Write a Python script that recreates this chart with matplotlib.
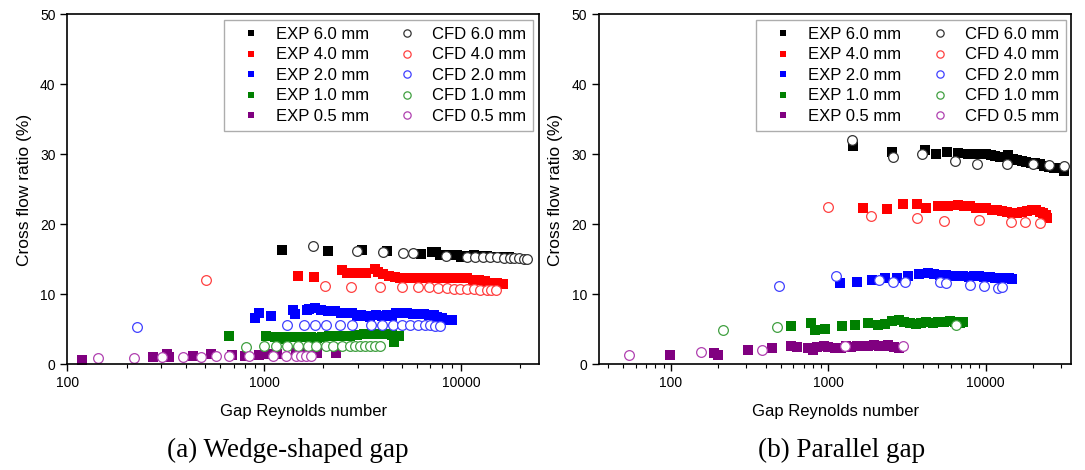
import matplotlib
matplotlib.use("Agg")
import matplotlib.pyplot as plt
from matplotlib.ticker import FixedLocator, FixedFormatter, NullFormatter, LogLocator

plt.rcParams['font.family'] = ['Liberation Sans', 'DejaVu Sans']

labels = ['6.0 mm', '4.0 mm', '2.0 mm', '1.0 mm', '0.5 mm']
exp_colors = ['#000000', '#ff0000', '#0000ff', '#008000', '#800080']
cfd_colors = ['#333333', '#ff4040', '#4040ff', '#40a040', '#b040b0']

# ---- (a) wedge-shaped gap ----
a_exp6_re = [1230, 2120, 3130, 4200, 6300, 7100, 7500, 7800, 8300, 8800, 9500, 10000, 10800, 11600, 12500, 13500, 14700, 16000, 17500]
a_exp6_v = [16.4, 16.2, 16.3, 16.2, 15.8, 16.1, 16.0, 15.7, 15.7, 15.6, 15.6, 15.4, 15.5, 15.6, 15.5, 15.5, 15.4, 15.3, 15.3]
a_cfd6_re = [1780, 2960, 4020, 5080, 5700, 8400, 10700, 11800, 12900, 14100, 15300, 16500, 17700, 18700, 19700, 20800, 21600]
a_cfd6_v = [16.9, 16.2, 16.0, 15.9, 15.9, 15.5, 15.4, 15.4, 15.3, 15.3, 15.3, 15.2, 15.2, 15.2, 15.2, 15.1, 15.0]

a_exp4_re = [1480, 1800, 2500, 2650, 2800, 2950, 3100, 3300, 3650, 3800, 4000, 4300, 4600, 4900, 5300, 5700, 6100, 6600, 7100, 7600, 8100, 8700, 9300, 10000, 10700, 11500, 12300, 13200, 14100, 15200, 16400]
a_exp4_v = [12.6, 12.5, 13.5, 13.0, 13.1, 13.0, 13.0, 13.1, 13.6, 13.2, 12.9, 12.7, 12.5, 12.4, 12.4, 12.3, 12.4, 12.3, 12.3, 12.4, 12.4, 12.3, 12.4, 12.3, 12.3, 12.1, 12.0, 11.9, 11.7, 11.6, 11.5]
a_cfd4_re = [506, 2040, 2770, 3860, 5000, 6060, 6900, 7650, 8480, 9170, 9930, 10700, 11600, 12500, 13500, 14200, 15100]
a_cfd4_v = [12.0, 11.2, 11.1, 11.0, 11.0, 11.0, 11.0, 10.9, 10.9, 10.8, 10.8, 10.8, 10.8, 10.7, 10.7, 10.7, 10.6]

a_exp2_re = [900, 944, 1080, 1410, 1440, 1650, 1700, 1820, 1950, 2100, 2300, 2450, 2600, 2800, 2950, 3100, 3300, 3450, 3700, 3950, 4200, 4450, 4700, 5000, 5300, 5700, 6100, 6500, 6900, 7300, 7600, 8000, 8500, 9000]
a_exp2_v = [6.7, 7.3, 6.9, 7.8, 7.2, 7.8, 7.9, 8.0, 7.8, 7.7, 7.7, 7.4, 7.3, 7.4, 6.9, 7.0, 6.9, 6.8, 7.0, 6.9, 7.0, 6.9, 7.4, 7.3, 7.4, 7.2, 7.2, 7.2, 7.0, 7.0, 6.8, 6.7, 6.3, 6.3]
a_cfd2_re = [227, 1300, 1590, 1820, 2070, 2420, 2790, 3490, 3980, 4520, 5000, 5530, 6060, 6560, 6950, 7370, 7810]
a_cfd2_v = [5.4, 5.6, 5.6, 5.6, 5.6, 5.6, 5.6, 5.6, 5.6, 5.6, 5.6, 5.6, 5.6, 5.6, 5.6, 5.5, 5.5]

a_exp1_re = [665, 1023, 1140, 1200, 1262, 1370, 1480, 1610, 1740, 1850, 1970, 2140, 2320, 2520, 2740, 2970, 3220, 3490, 3790, 4100, 4450, 4550, 4830]
a_exp1_v = [4.0, 4.0, 3.9, 3.7, 3.9, 3.9, 3.9, 3.9, 3.9, 3.8, 3.9, 4.0, 4.0, 4.1, 4.0, 4.2, 4.3, 4.4, 4.3, 4.3, 4.2, 3.2, 4.0]
a_cfd1_re = [807, 1004, 1151, 1304, 1495, 1680, 1838, 2059, 2251, 2490, 2740, 2900, 3070, 3250, 3440, 3650, 3860]
a_cfd1_v = [2.5, 2.6, 2.6, 2.7, 2.7, 2.7, 2.7, 2.7, 2.7, 2.7, 2.7, 2.7, 2.7, 2.7, 2.7, 2.7, 2.7]

a_exp05_re = [119, 272, 320, 330, 437, 536, 690, 800, 943, 1032, 1160, 1450, 1550, 1650, 1750, 1850, 2330]
a_exp05_v = [0.7, 1.0, 1.5, 1.1, 1.2, 1.5, 1.3, 1.2, 1.4, 1.5, 1.5, 1.8, 1.9, 1.7, 1.8, 1.6, 1.7]
a_cfd05_re = [144, 219, 302, 385, 477, 568, 664, 842, 1114, 1293, 1449, 1541, 1629, 1727]
a_cfd05_v = [0.86, 0.95, 1.0, 1.1, 1.1, 1.2, 1.2, 1.25, 1.25, 1.25, 1.25, 1.25, 1.25, 1.25]

# ---- (b) parallel gap ----
b_exp6_re = [1440, 2530, 4100, 4800, 5700, 6700, 7660, 8900, 9500, 10100, 10800, 11500, 12300, 13100, 13900, 14800, 15800, 16900, 18000, 19300, 20600, 22000, 23500, 25200, 27000, 29300, 31400]
b_exp6_v = [31.2, 30.3, 30.7, 30.1, 30.4, 30.2, 30.0, 30.0, 30.1, 30.1, 29.9, 29.8, 29.7, 29.6, 29.9, 29.4, 29.2, 29.0, 28.9, 28.8, 28.8, 28.6, 28.3, 28.2, 28.1, 28.0, 27.6]
b_cfd6_re = [1410, 2580, 3930, 6340, 8800, 13700, 19900, 25100, 31200]
b_cfd6_v = [32.1, 29.7, 30.0, 29.0, 28.7, 28.7, 28.6, 28.5, 28.4]

b_exp4_re = [1670, 2350, 2990, 3680, 4200, 5000, 5800, 6700, 7300, 8000, 8700, 9400, 10100, 10900, 11800, 12700, 13700, 14700, 15900, 17100, 18400, 19800, 21000, 22000, 23000, 24000, 24500]
b_exp4_v = [22.4, 22.2, 22.9, 22.9, 22.4, 22.6, 22.7, 22.8, 22.6, 22.6, 22.4, 22.4, 22.3, 22.1, 22.1, 21.9, 21.8, 21.7, 21.7, 21.8, 21.9, 22.1, 22.0, 21.8, 21.6, 21.3, 20.9]
b_cfd4_re = [990, 1880, 3680, 5450, 9000, 14400, 17800, 22000]
b_cfd4_v = [22.5, 21.2, 20.9, 20.5, 20.6, 20.4, 20.3, 20.2]

b_exp2_re = [1180, 1530, 1890, 2300, 2750, 3200, 3770, 4270, 4700, 5100, 5600, 6100, 6600, 7200, 7800, 8400, 9100, 9800, 10600, 11400, 12300, 13200, 14000, 14700]
b_exp2_v = [11.6, 11.8, 12.1, 12.3, 12.4, 12.6, 12.9, 13.0, 12.9, 12.8, 12.8, 12.7, 12.6, 12.6, 12.5, 12.6, 12.6, 12.5, 12.5, 12.4, 12.4, 12.3, 12.3, 12.2]
b_cfd2_re = [490, 1120, 2110, 2580, 3070, 5100, 5620, 7960, 9800, 11900, 12700]
b_cfd2_v = [11.2, 12.7, 12.0, 11.8, 11.8, 11.8, 11.7, 11.4, 11.2, 10.9, 11.1]

b_exp1_re = [578, 780, 830, 955, 1230, 1480, 1780, 2060, 2300, 2550, 2800, 3030, 3300, 3600, 3900, 4200, 4600, 5000, 5400, 5900, 6400, 6900, 7200]
b_exp1_v = [5.5, 5.9, 4.9, 5.1, 5.5, 5.7, 5.9, 5.7, 5.8, 6.2, 6.3, 6.1, 5.9, 5.8, 5.9, 6.0, 5.9, 6.1, 6.1, 6.2, 6.1, 5.9, 6.1]
b_cfd1_re = [214, 470, 6500]
b_cfd1_v = [4.9, 5.4, 5.7]

b_exp05_re = [99, 188, 200, 308, 442, 578, 635, 740, 800, 850, 940, 1000, 1100, 1200, 1300, 1400, 1530, 1650, 1800, 1950, 2100, 2250, 2400, 2600, 2800]
b_exp05_v = [1.4, 1.7, 1.4, 2.0, 2.4, 2.6, 2.5, 2.4, 2.1, 2.5, 2.6, 2.5, 2.3, 2.4, 2.6, 2.5, 2.6, 2.7, 2.7, 2.8, 2.7, 2.6, 2.8, 2.5, 2.4]
b_cfd05_re = [54, 155, 377, 1270, 3000]
b_cfd05_v = [1.3, 1.8, 2.1, 2.6, 2.7]

wedge_exp = [(a_exp6_re, a_exp6_v), (a_exp4_re, a_exp4_v), (a_exp2_re, a_exp2_v), (a_exp1_re, a_exp1_v), (a_exp05_re, a_exp05_v)]
wedge_cfd = [(a_cfd6_re, a_cfd6_v), (a_cfd4_re, a_cfd4_v), (a_cfd2_re, a_cfd2_v), (a_cfd1_re, a_cfd1_v), (a_cfd05_re, a_cfd05_v)]
par_exp = [(b_exp6_re, b_exp6_v), (b_exp4_re, b_exp4_v), (b_exp2_re, b_exp2_v), (b_exp1_re, b_exp1_v), (b_exp05_re, b_exp05_v)]
par_cfd = [(b_cfd6_re, b_cfd6_v), (b_cfd4_re, b_cfd4_v), (b_cfd2_re, b_cfd2_v), (b_cfd1_re, b_cfd1_v), (b_cfd05_re, b_cfd05_v)]


def draw(ax, exp, cfd, xlim):
    for (x, y), c, lab in zip(exp, exp_colors, labels):
        ax.plot(x, y, 's', color=c, markersize=6.5, markeredgewidth=0, label='EXP ' + lab)
    for (x, y), c, lab in zip(cfd, cfd_colors, labels):
        ax.plot(x, y, 'o', markerfacecolor='white', markeredgecolor=c, markersize=7,
                markeredgewidth=0.9, label='CFD ' + lab)
    ax.set_xscale('log')
    ax.set_xlim(*xlim)
    ax.set_ylim(0, 50)
    ax.set_yticks([0, 10, 20, 30, 40, 50])
    ax.xaxis.set_major_locator(FixedLocator([100, 1000, 10000]))
    ax.xaxis.set_major_formatter(FixedFormatter(['100', '1000', '10000']))
    ax.xaxis.set_minor_locator(LogLocator(base=10, subs=range(2, 10)))
    ax.xaxis.set_minor_formatter(NullFormatter())
    ax.tick_params(which='major', direction='out', length=5, width=1, labelsize=10, top=False, right=False)
    ax.tick_params(which='minor', direction='out', length=3, width=0.8)
    for s in ax.spines.values():
        s.set_linewidth(1.2)
    ax.set_xlabel('Gap Reynolds number', fontsize=12, labelpad=10)
    ax.set_ylabel('Cross flow ratio (%)', fontsize=12.5, labelpad=6)
    leg = ax.legend(ncol=2, loc='upper right', fontsize=12, frameon=True, fancybox=False,
                    edgecolor='#999999', markerscale=0.75, handlelength=2.4, handletextpad=0.3,
                    columnspacing=1.1, labelspacing=0.33, borderaxespad=0.35, borderpad=0.4)
    leg.get_frame().set_linewidth(1.0)


fig = plt.figure(figsize=(10.85, 4.70), dpi=100)
ax1 = fig.add_axes([0.062, 0.2245, 0.435, 0.7447])
ax2 = fig.add_axes([0.552, 0.2245, 0.4355, 0.7447])

draw(ax1, wedge_exp, wedge_cfd, (100, 25000))
draw(ax2, par_exp, par_cfd, (35, 35000))

serif = ['Liberation Serif', 'DejaVu Serif']
fig.text(0.2654, 0.042, '(a) Wedge-shaped gap', ha='center', va='center', fontsize=19.5, family=serif)
fig.text(0.776, 0.042, '(b) Parallel gap', ha='center', va='center', fontsize=19.5, family=serif)

fig.savefig('out.png', dpi=100)
